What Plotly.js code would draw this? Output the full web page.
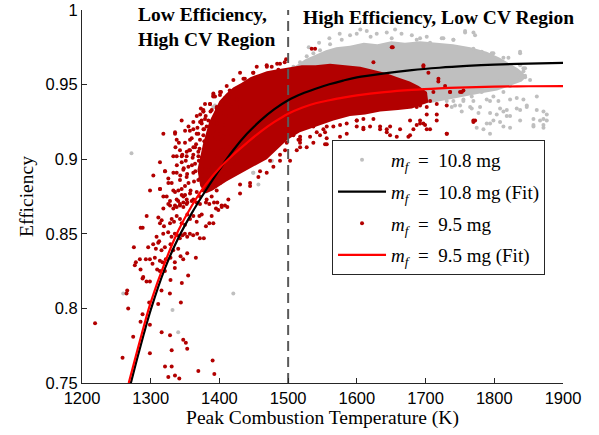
<!DOCTYPE html>
<html>
<head>
<meta charset="utf-8">
<script src="https://cdn.plot.ly/plotly-3.0.1.min.js"></script>
<style>html,body{margin:0;padding:0;background:#fff;}#chart{width:599px;height:435px;}</style>
</head>
<body>
<div id="chart"></div>
<script>
// ---- Data ----
// Fitted curves (Efficiency vs Peak Combustion Temperature)
const fit95T  = [1268,1280,1290,1300,1320,1340,1360,1380,1400,1420,1440,1460,1480,1500,1520,1540,1560,1580,1600,1640,1680,1720,1760,1800,1850,1900];
const fit95E  = [0.750,0.771,0.788,0.804,0.830,0.852,0.869,0.883,0.894,0.903,0.911,0.9185,0.925,0.9305,0.9345,0.9375,0.9395,0.9413,0.9428,0.945,0.9465,0.9475,0.9482,0.9486,0.9489,0.949];
const fit108T = [1270,1280,1290,1300,1320,1340,1360,1380,1400,1420,1440,1460,1480,1500,1520,1540,1560,1580,1600,1640,1680,1720,1760,1800,1850,1900];
const fit108E = [0.748,0.766,0.783,0.799,0.826,0.847,0.864,0.879,0.893,0.906,0.917,0.926,0.9335,0.9395,0.9438,0.9472,0.9502,0.9527,0.9548,0.9575,0.9597,0.9613,0.9625,0.9634,0.9641,0.9645];

// Outline of the densely filled part of each cloud
const greyCoreT = [1500,1512,1525,1540,1555,1570,1590,1610,1630,1650,1670,1692,1716,1740,1765,1789,1808,1823,1834,1842,1846,1840,1823,1804,1779,1755,1731,1711,1690,1650,1600,1540,1500];
const greyCoreE = [0.960,0.963,0.967,0.970,0.973,0.975,0.976,0.978,0.977,0.979,0.978,0.979,0.978,0.977,0.975,0.972,0.968,0.964,0.961,0.958,0.955,0.952,0.949,0.946,0.944,0.942,0.940,0.938,0.937,0.937,0.937,0.940,0.948];
const redCoreT = [1368,1376,1385,1393,1400,1410,1420,1432,1445,1457,1469,1481,1493,1507,1520,1540,1561,1583,1605,1623,1641,1659,1677,1690,1702,1704,1692,1680,1660,1634,1612,1590,1566,1542,1517,1499,1483,1469,1457,1445,1432,1420,1410,1400,1390,1380,1372];
const redCoreE = [0.893,0.910,0.925,0.932,0.939,0.944,0.948,0.951,0.955,0.957,0.959,0.960,0.961,0.962,0.963,0.963,0.964,0.963,0.962,0.960,0.958,0.955,0.952,0.949,0.945,0.938,0.936,0.934,0.933,0.932,0.930,0.929,0.926,0.922,0.918,0.913,0.906,0.900,0.897,0.894,0.891,0.888,0.885,0.882,0.879,0.877,0.882];

// Individual scattered points, m_f = 10.8 mg (grey)
const greyT = [1272,1260,1420.2,1331.7,1340,1391,1449.4,1476.1,1456.7,1476,1449,1393.6,
  1590.1,1599.8,1614.4,1628.9,1643.5,1650.7,1655.6,1578.0,1561.0,1546.4,1536.7,1527.0,1517.3,1507.6,
  1560,1575,1605,1620,1665,1680,1545,1530,
  1769.7,1837.6,1842.4,1852.1,1861.9,1871.6,1876.4,1837.6,1818.2,1803.6,1793.9,1784.2,1842.4,1857.0,1871.6,1813.3,
  1757.5,1772.0,1725.9,1706.5,1740.5,1837.5,1798.7,1687.1,
  1823.0,1832.7,1842.4,1844.8,1808.4,1798.7,1781.7,1767.2,1755.0,1742.9,1730.8,1823.0,1823.0,1793.8,1764.8,1779.3,1808.4,1832.7,1847.2,1861.8,1866.6,1871.5,1857.0,1818.1,1798.7,1789.0,1823.0,1793.8,1774.4,1752.6,1738.1,
  1757.5,1740.5,1723.5,1769.6,1781.8,1796.3,1813.3,1820.6,1837.6,1844.8,1701.7,1692,
  1844.8,1837.6,1813.3,1798.7,1789,1806,1769.6,1755.1,1767.2,1777,1793.9,1813.3,1832.7,1847.3,1823,1857,1876.4,1871.5,1837.6,1808.4,1750.2,1740.5];
const greyE = [0.904,0.810,0.810,0.799,0.784,0.935,0.891,0.899,0.883,0.899,0.891,0.936,
  0.983,0.984,0.986,0.984,0.985,0.981,0.987,0.980,0.977,0.973,0.971,0.969,0.965,0.962,
  0.981,0.984,0.987,0.982,0.984,0.983,0.978,0.975,
  0.985,0.971,0.959,0.953,0.942,0.932,0.926,0.933,0.933,0.930,0.924,0.920,0.940,0.923,0.921,0.922,
  0.986,0.983,0.981,0.978,0.980,0.972,0.971,0.980,
  0.961,0.958,0.961,0.955,0.953,0.949,0.945,0.942,0.939,0.936,0.939,0.949,0.940,0.939,0.935,0.935,0.934,0.941,0.935,0.933,0.926,0.927,0.922,0.929,0.926,0.924,0.921,0.917,0.921,0.932,0.935,
  0.985,0.980,0.981,0.974,0.972,0.971,0.968,0.968,0.963,0.961,0.982,0.981,
  0.956,0.954,0.945,0.942,0.940,0.939,0.939,0.940,0.934,0.931,0.931,0.932,0.934,0.936,0.929,0.927,0.930,0.923,0.926,0.925,0.936,0.939];

// Individual scattered points, m_f = 9.5 mg (dark red)
const redT = [1325.6,1335.3,1342.6,1347.5,1353.3,1359.6,1366.9,1371.7,1380.4,1385.3,1392.1,1396.9,1403.2,1408.1,1411.5,
  1294.1,1288.3,1285.4,1311.1,1315.9,1313.5,1319.3,1328.1,1330.5,1333.9,1337.8,1342.6,1345.0,1349.9,1353.3,1357.2,1362.0,1366.9,1370.8,1374.2,1380.4,1385.3,1388.7,1391.1,1395.0,1398.4,
  1308.5,1312.3,1318.2,1325.4,1330.3,1335.1,1338.5,1342.4,1346.3,1349.7,1353.1,1357.0,1361.8,1367.6,1371.5,1377.3,
  1275.5,1296.3,1303.6,1307.5,1310.9,1315.7,1320.6,1328.8,1332.7,1340.0,1353.1,
  1278.4,1276.9,1284.2,1292.9,1298.8,1302.6,1306.0,1313.3,1317.2,1322.0,1328.8,1335.1,1343.4,1347.3,1365.7,
  1285.2,1289.1,1288.1,1293.9,1298.8,1309.4,1313.3,1320.6,1328.8,1335.1,1345.3,1354.5,
  1265.8,1264.8,1315.7,1327.9,1267.2,1297.8,1310.9,1343.9,
  1288.1,1285.2,1298.8,1274.5,1315.9,1328.1,1347.3,1351.1,1353.1,1330.5,1259.0,1298.8,1320.8,1330.5,1325.6,1335.3,1341.6,1369.3,1390.1,1392.6,1219,
  1391.2,1402.3,1408.2,1414.5,1376.6,1388.8,1396.0,1403.3,1383.9,1371.8,1377.6,1366.9,1335.4,1357.2,1362.1,1352.4,1345.1,1337.8,1369.4,1333.0,1320.8,1325.7,1313.6,1335.4,1345.1,1352.4,1318.4,1328.1,1337.8,1347.5,
  1430.0,1444.6,1459.1,1473.7,1488.2,1495.5,1413.0,1403.3,
  1437,1415,1391,1372,1449,1469,1484,1495,
  1652.2,1624.1,1497.0,1534.3,
  1517.3,1536.7,1551.3,1565.8,1585.2,1599.8,1609.5,1619.2,1633.8,1643.5,1648.3,1662.9,1677.4,1692.0,1701.7,1599.8,1575.5,1546.4,1507.6,1497.9,1517.3,1536.7,1556.1,
  1517.4,1515.0,1553.7,1609.5,1643.5,1648.4,1658.1,1675.0,1682.3,1699.3,1716.3,1730.9,1755.1,1772.1,1650.8,1539.2,
  1696.8,1718.6,1735.6,1750.2,1769.6,1730.8,1706.5,1696.8,1687.1,1677.4,1716.2,1701.7,1687.1,
  1400.8,1413.0,1405.7,1396.0,1415.4,1425.1,1430.0,1403.3,1410.6,1420.3,1393.6,1388.7,1379.0,1374.2,1381.4,1396.0,1405.7,1386.3,1398.4,1376.6,
  1369.3,1371.7,1364.5,1357.2,1362.0,1369.3,1381.4,1391.1,1352.3,1345.1,1347.5,1337.8,1332.9,1335.4,1354.8,1364.5,1374.2,1381.4,1342.6,1352.3,
  1330.5,1320.8,1332.9,1340.2,1349.9,1313.5,1323.2,1328.1,1337.8,1347.5,1357.2,1318.4,1332.9,1342.6,1352.3,1362.0,1371.7,1379.0,1386.3,1393.6,
  1369.3,1362.0,1374.2,1383.9,1396.0,1405.7,1403.3,1398.4,1391.1,1376.6,1381.4,1388.7,1396.0,1400.8,1405.7,1410.6,1417.8,1422.7,1413.0,1420.3,
  1391.2,1376.7,1420.3,1430.0,1454.3,1468.8,1476.1,1410.6,1434.9,1449.4,1400.9,1386.4,1485.8,1488.2,
  1517.4,1531.9,1541.6,1556.2,1575.6,1599.8,1624.1,1633.8,1609.5,1585.3,1556.2,1512.5,1502.8,1488.2,1478.5,1468.8,1456.7,1444.6,1430.0,1517.4,1553.7,1527.0,
  1696.9,1704.1,1718.7,1728.4,1735.7,1752.7,1699.3,1711.4,1692,1706.6,1716.3,1730.8,1701.7,1769.6,1692,
  1376.7,1386.4,1396.1,1381.5,1393.6,1405.8,1379.1,1391.2,1403.3,1415.5,1383.9,1396.1,1408.2,1376.7,1388.8,1400.9,1413.0,1381.5,1393.6,1420.3,1425.2,1417.9,1427.6,
  1318.4,1313.5,1303.8,1299.0,1325.6,1342.6,1359.6,1349.9,1337.8,1362.0,1376.6,1386.3,1393.6,
  1340,1345,1350,1355,1358,1363,1367,1372,1343,1348,1353,1360,1365,1370,1375,1338,1346,1351,1356,1361,
  1366,1371,1378,1384,1389,1336,1341,1357,1368,1374,1380,1387,1392,1362,1367,1373,1379,1355,1350,1345];
const redE = [0.870,0.869,0.870,0.871,0.871,0.872,0.871,0.870,0.871,0.870,0.871,0.871,0.869,0.869,0.868,
  0.862,0.854,0.854,0.861,0.859,0.857,0.855,0.857,0.860,0.858,0.862,0.860,0.857,0.856,0.863,0.860,0.862,0.858,0.862,0.863,0.855,0.857,0.862,0.857,0.867,0.866,
  0.848,0.845,0.850,0.851,0.848,0.850,0.849,0.847,0.849,0.850,0.848,0.850,0.849,0.850,0.847,0.847,
  0.841,0.841,0.843,0.840,0.844,0.839,0.841,0.843,0.839,0.840,0.837,
  0.831,0.829,0.833,0.833,0.833,0.830,0.834,0.832,0.831,0.833,0.834,0.831,0.835,0.833,0.834,
  0.826,0.821,0.820,0.818,0.818,0.826,0.825,0.825,0.819,0.827,0.817,0.822,
  0.812,0.810,0.812,0.810,0.800,0.804,0.803,0.804,
  0.796,0.791,0.789,0.781,0.784,0.782,0.779,0.777,0.773,0.772,0.767,0.770,0.761,0.761,0.754,0.755,0.753,0.758,0.765,0.756,0.790,
  0.944,0.945,0.941,0.942,0.932,0.933,0.935,0.931,0.926,0.925,0.920,0.917,0.918,0.913,0.908,0.905,0.902,0.902,0.902,0.891,0.892,0.884,0.880,0.878,0.876,0.873,0.875,0.869,0.868,0.868,
  0.877,0.882,0.892,0.899,0.903,0.906,0.873,0.868,
  0.954,0.946,0.942,0.930,0.958,0.962,0.964,0.965,
  0.975,0.965,0.967,0.974,
  0.920,0.922,0.920,0.922,0.924,0.926,0.927,0.922,0.922,0.920,0.916,0.920,0.926,0.924,0.920,0.922,0.915,0.916,0.916,0.911,0.911,0.911,0.914,
  0.908,0.913,0.910,0.921,0.918,0.922,0.915,0.915,0.920,0.923,0.930,0.917,0.946,0.926,0.975,0.974,
  0.962,0.952,0.945,0.945,0.926,0.917,0.920,0.924,0.923,0.916,0.926,0.935,0.935,
  0.943,0.942,0.937,0.934,0.936,0.940,0.935,0.931,0.929,0.931,0.929,0.925,0.927,0.924,0.922,0.924,0.923,0.918,0.917,0.916,
  0.917,0.913,0.908,0.906,0.903,0.905,0.911,0.913,0.902,0.898,0.893,0.891,0.902,0.917,0.895,0.897,0.901,0.904,0.886,0.888,
  0.884,0.892,0.879,0.879,0.882,0.880,0.875,0.872,0.873,0.875,0.877,0.867,0.867,0.869,0.870,0.873,0.875,0.882,0.884,0.887,
  0.886,0.891,0.893,0.895,0.902,0.906,0.913,0.894,0.891,0.879,0.873,0.875,0.879,0.884,0.888,0.893,0.897,0.902,0.902,0.906,
  0.943,0.932,0.953,0.958,0.962,0.963,0.962,0.949,0.954,0.958,0.945,0.937,0.960,0.964,
  0.913,0.915,0.918,0.922,0.923,0.926,0.927,0.920,0.920,0.917,0.910,0.906,0.899,0.899,0.895,0.891,0.888,0.884,0.883,0.915,0.918,0.908,
  0.963,0.958,0.954,0.949,0.945,0.945,0.944,0.945,0.936,0.939,0.937,0.936,0.930,0.925,0.926,
  0.920,0.922,0.918,0.911,0.912,0.915,0.902,0.904,0.906,0.910,0.895,0.897,0.899,0.889,0.888,0.891,0.893,0.883,0.882,0.899,0.904,0.916,0.913,
  0.917,0.898,0.889,0.879,0.887,0.906,0.914,0.911,0.913,0.920,0.933,0.937,0.942,
  0.872,0.880,0.876,0.884,0.879,0.885,0.878,0.887,0.889,0.894,0.890,0.896,0.892,0.899,0.895,0.896,0.903,0.899,0.906,0.901,
  0.910,0.907,0.912,0.908,0.915,0.908,0.911,0.919,0.921,0.926,0.929,0.932,0.928,0.925,0.929,0.934,0.937,0.922,0.919,0.926];

// Region boundary and axis ticks
const boundaryT = [1500, 1500];
const boundaryE = [0.75, 1.0];
const xTicks = [1200,1300,1400,1500,1600,1700,1800,1900];
const yTicks = [0.75,0.8,0.85,0.9,0.95,1];
const yTickText = ['0.75','0.8','0.85','0.9','0.95','1'];
const mf = '<i>m</i><sub><i>f</i></sub>\u2002=\u2002';
const seriesNames = [mf + '10.8 mg', mf + '10.8 mg (Fit)', mf + '9.5 mg', mf + '9.5 mg (Fit)'];

const GREY = 'rgb(191,191,191)';
const DARKRED = 'rgb(178,0,0)';
const serif = 'Liberation Serif, Times New Roman, serif';
const sans = 'Liberation Sans, Arial, sans-serif';

const traces = [
  {x: greyCoreT, y: greyCoreE, type:'scatter', mode:'lines', fill:'toself', fillcolor:GREY,
   line:{width:0, color:GREY}, showlegend:false, hoverinfo:'skip'},
  {x: greyT, y: greyE, type:'scatter', mode:'markers', name: seriesNames[0], legendrank:1, legendgroup:'a',
   marker:{color:GREY, size:4}},
  {x: redCoreT, y: redCoreE, type:'scatter', mode:'lines', fill:'toself', fillcolor:DARKRED,
   line:{width:0, color:DARKRED}, showlegend:false, hoverinfo:'skip'},
  {x: redT, y: redE, type:'scatter', mode:'markers', name: seriesNames[2], legendrank:3, legendgroup:'c',
   marker:{color:DARKRED, size:4}},
  {x: boundaryT, y: boundaryE, type:'scatter', mode:'lines', showlegend:false, hoverinfo:'skip',
   line:{color:'rgb(90,90,90)', width:2, dash:'10px,6px'}},
  {x: fit108T, y: fit108E, type:'scatter', mode:'lines', name: seriesNames[1], legendrank:2, legendgroup:'b',
   line:{color:'#000', width:2.2, shape:'spline', smoothing:1}},
  {x: fit95T, y: fit95E, type:'scatter', mode:'lines', name: seriesNames[3], legendrank:4, legendgroup:'d',
   line:{color:'#ff0000', width:2.2, shape:'spline', smoothing:1}}
];

const layout = {
  width:599, height:435,
  margin:{l:82, r:36, t:10, b:52},
  paper_bgcolor:'#fff', plot_bgcolor:'#fff',
  showlegend:true,
  xaxis:{range:[1200,1900], tickvals:xTicks, ticks:'inside', ticklen:5, tickcolor:'#262626',
    showline:true, linecolor:'#262626', linewidth:1, mirror:false, showgrid:false, zeroline:false,
    tickfont:{family:sans, size:16.5, color:'#000'},
    title:{text:'Peak Combustion Temperature (K)', font:{family:serif, size:19.5, color:'#000'}, standoff:4}},
  yaxis:{range:[0.75,1.0], tickvals:yTicks, ticktext:yTickText, ticks:'inside', ticklen:5, tickcolor:'#262626',
    showline:true, linecolor:'#262626', linewidth:1, mirror:false, showgrid:false, zeroline:false,
    tickfont:{family:sans, size:16.5, color:'#000'},
    title:{text:'Efficiency', font:{family:serif, size:19.5, color:'#000'}, standoff:6}},
  legend:{x:0.5198, y:0.6515, xanchor:'left', yanchor:'top', bgcolor:'#fff', bordercolor:'#262626', borderwidth:1,
    font:{family:serif, size:19, color:'#000'}, traceorder:'grouped', tracegroupgap:4, itemwidth:48},
  annotations:[
    {x:1279, y:0.9886, xref:'x', yref:'y', xanchor:'left', yanchor:'middle', align:'left', showarrow:false,
     text:'<b>Low Efficiency,<br>High CV Region</b>', font:{family:serif, size:19.5, color:'#000'}},
    {x:1518, y:0.9953, xref:'x', yref:'y', xanchor:'left', yanchor:'middle', align:'left', showarrow:false,
     text:'<b>High Efficiency, Low CV Region</b>', font:{family:serif, size:19.5, color:'#000'}}
  ]
};

Plotly.newPlot('chart', traces, layout, {staticPlot:true, displayModeBar:false});
</script>
</body>
</html>
